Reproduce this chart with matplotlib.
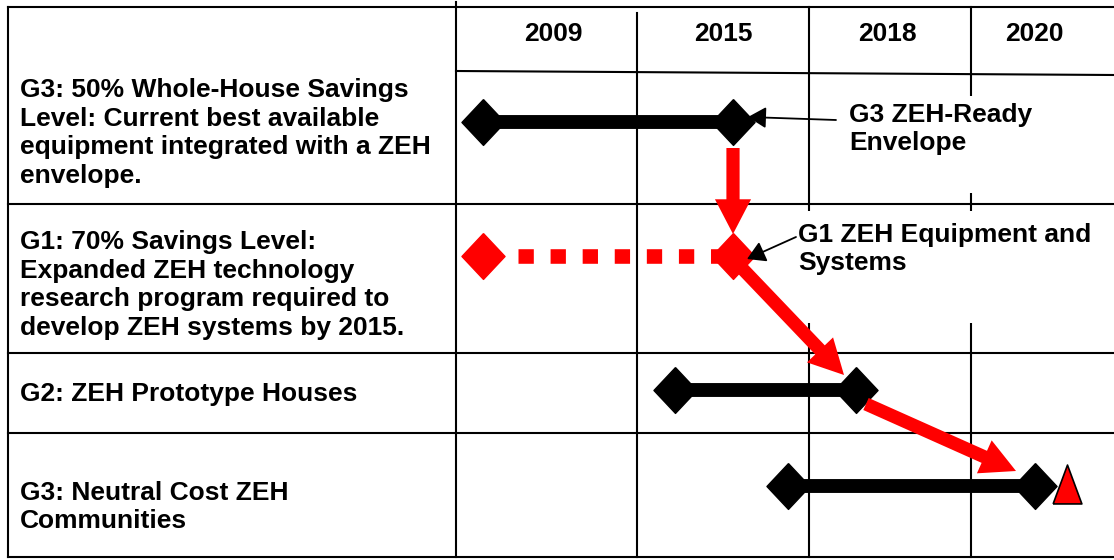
import matplotlib.pyplot as plt
from matplotlib.patches import FancyArrowPatch, Rectangle

plt.rcParams['font.family'] = ['Liberation Sans', 'DejaVu Sans']

# table layout (pixel units of the 1114x560 picture)
years = ['2009', '2015', '2018', '2020']
year_x = [553, 723, 887, 1034]
col_edges = [456, 637, 809, 971, 1114]
row_edges = [7, 204, 353, 433, 557]

row_labels = [
    'G3: 50% Whole-House Savings\nLevel: Current best available\nequipment integrated with a ZEH\nenvelope.',
    'G1: 70% Savings Level:\nExpanded ZEH technology\nresearch program required to\ndevelop ZEH systems by 2015.',
    'G2: ZEH Prototype Houses',
    'G3: Neutral Cost ZEH\nCommunities',
]
row_label_y = [133, 285, 394, 507]

# black activity bars
bar_start = [483, 675, 788]
bar_end = [733, 856, 1035]
bar_y = [122, 390, 486]

# red research bar (dotted)
research_start = 483
research_end = 733
research_y = 256

# red flow arrows: (x0, y0, x1, y1)
flow_arrows = [
    (733, 148, 733, 234),
    (736, 262, 844, 375),
    (866, 404, 1016, 471),
]

# red milestone triangle
milestone_x = 1067
milestone_y = 484

# callouts: text, text pos, arrow start, arrow tip, white box (x0, y0, x1, y1)
callouts = [
    ('G3 ZEH-Ready\nEnvelope', (849, 129), (836, 120), (748, 117), (840, 96, 1110, 193)),
    ('G1 ZEH Equipment and\nSystems', (798, 249), (796, 237), (747, 259), (790, 211, 1110, 323)),
]

fig = plt.figure(figsize=(11.14, 5.6), dpi=100)
ax = fig.add_axes([0, 0, 1, 1])
ax.set_xlim(0, 1114)
ax.set_ylim(560, 0)
ax.axis('off')

lc = 'black'
lw = 1.5
fs = 19
# outer frame and row lines
for y in row_edges:
    ax.plot([8, 1114], [y, y], color=lc, lw=lw)
ax.plot([8, 8], [row_edges[0], row_edges[-1]], color=lc, lw=lw)
ax.plot([col_edges[0], col_edges[0]], [2, row_edges[-1]], color=lc, lw=lw)
ax.plot([col_edges[1], col_edges[1]], [13, row_edges[-1]], color=lc, lw=lw)
for x in col_edges[2:4]:
    ax.plot([x, x], [row_edges[0], row_edges[-1]], color=lc, lw=lw)
# header separator (slightly tilted in original)
ax.plot([col_edges[0], col_edges[-1]], [71, 75], color=lc, lw=lw)

for yr, x in zip(years, year_x):
    ax.text(x, 34, yr, ha='center', va='center', fontsize=fs, fontweight='bold')

for lab, y in zip(row_labels, row_label_y):
    ax.text(20, y, lab, ha='left', va='center', fontsize=fs, fontweight='bold',
            linespacing=1.24)

# white boxes behind callouts (they hide grid lines)
for txt, tpos, a0, a1, box in callouts:
    ax.add_patch(Rectangle((box[0], box[1]), box[2] - box[0], box[3] - box[1],
                           facecolor='white', edgecolor='none', zorder=2))
    ax.text(tpos[0], tpos[1], txt, ha='left', va='center', fontsize=fs,
            fontweight='bold', linespacing=1.2, zorder=3)
    ax.add_patch(FancyArrowPatch(a0, a1, arrowstyle='-|>,head_length=11,head_width=6.5',
                                 mutation_scale=1, color='black', lw=1.3,
                                 shrinkA=0, shrinkB=0, zorder=6))

diamond = [(0, 1), (0.94, 0), (0, -1), (-0.94, 0), (0, 1)]

for x0, x1, y in zip(bar_start, bar_end, bar_y):
    ax.plot([x0, x1], [y, y], color='black', lw=10, solid_capstyle='butt', zorder=4)
    ax.plot([x0, x1], [y, y], color='black', lw=0, marker=diamond, ms=33, zorder=4)

ax.plot([research_start + 35, research_end], [research_y, research_y], color='red', lw=10.5,
        linestyle=(0, (1.05, 1.15)), dash_capstyle='butt', zorder=4)
ax.plot([research_start, research_end], [research_y, research_y], color='red', lw=0,
        marker=diamond, ms=33, zorder=4)

for x0, y0, x1, y1 in flow_arrows:
    ax.add_patch(FancyArrowPatch((x0, y0), (x1, y1),
                                 arrowstyle='simple,head_length=25,head_width=26,tail_width=9.5',
                                 mutation_scale=1, color='red', lw=0,
                                 shrinkA=0, shrinkB=0, zorder=5))

tri = [(-0.37, -0.5), (0.37, -0.5), (0, 0.5), (-0.37, -0.5)]
ax.plot([milestone_x], [milestone_y], marker=tri, ms=28, color='red',
        markeredgecolor='black', markeredgewidth=1.2, zorder=5)

fig.savefig('out.png', dpi=100)
plt.close(fig)
